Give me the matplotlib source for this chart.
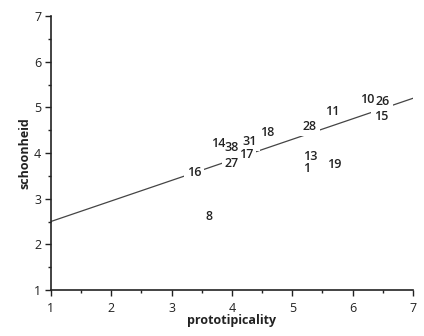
import matplotlib.pyplot as plt
from matplotlib.ticker import MultipleLocator

# item numbers with their prototipicality / schoonheid scores
items = ['8', '16', '27', '14', '38', '31', '17', '18',
         '28', '11', '10', '26', '15', '13', '1', '19']
proto = [3.62, 3.37, 4.00, 3.78, 4.00, 4.30, 4.23, 4.58,
         5.29, 5.66, 6.24, 6.50, 6.47, 5.29, 5.23, 5.69]
schoon = [2.62, 3.58, 3.78, 4.20, 4.13, 4.26, 3.96, 4.46,
          4.59, 4.92, 5.18, 5.12, 4.81, 3.93, 3.67, 3.76]

# regression line
line_x = [1, 7]
line_y = [2.5, 5.2]

plt.rcParams['font.family'] = ['Open Sans', 'DejaVu Sans']

fig = plt.figure(figsize=(4.24, 3.36), dpi=100)
ax = fig.add_axes([0.120, 0.137, 0.854, 0.815])

ax.plot(line_x, line_y, color='#444444', lw=0.9, zorder=1)

# white boxes first (break the line), then the numbers on top
for lab, x, y in zip(items, proto, schoon):
    ax.text(x, y, lab, ha='center', va='center', fontsize=9,
            fontweight='semibold', color='none', zorder=2,
            bbox=dict(boxstyle='square,pad=0.25', fc='white', ec='none'))
for lab, x, y in zip(items, proto, schoon):
    ax.text(x, y, lab, ha='center', va='center', fontsize=9,
            fontweight='semibold', color='#222222', zorder=3)

ax.set_xlim(1, 7)
ax.set_ylim(1, 7)
ax.xaxis.set_major_locator(MultipleLocator(1))
ax.yaxis.set_major_locator(MultipleLocator(1))
ax.xaxis.set_minor_locator(MultipleLocator(0.5))
ax.yaxis.set_minor_locator(MultipleLocator(0.5))

for s in ['top', 'right']:
    ax.spines[s].set_visible(False)
for s in ['left', 'bottom']:
    ax.spines[s].set_linewidth(1.2)
    ax.spines[s].set_color('#222222')

ax.tick_params(which='major', direction='out', length=4, width=1,
               labelsize=9, colors='#222222', pad=3)
ax.tick_params(axis='x', which='major', pad=5)
ax.tick_params(which='minor', direction='out', length=2, width=1,
               colors='#222222')

ax.set_xlabel('prototipicality', fontsize=9, fontweight='bold',
              color='#222222', labelpad=-1)
ax.set_ylabel('schoonheid', fontsize=9, fontweight='bold',
              color='#222222', labelpad=2)

fig.savefig('out.png', dpi=100)
